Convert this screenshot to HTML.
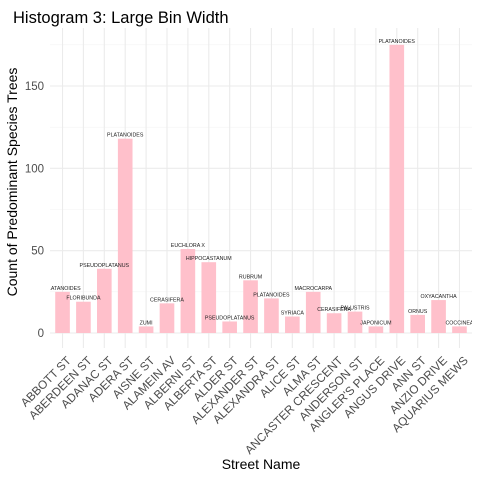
<!DOCTYPE html>
<html><head><meta charset="utf-8"><style>
html,body{margin:0;padding:0;background:#fff;}
svg{display:block;font-family:"Liberation Sans",Arial,sans-serif;}
</style></head><body>
<svg id="chart" width="480" height="480" viewBox="0 0 480 480">
<defs><clipPath id="pc"><rect x="50" y="28" width="422" height="320"/></clipPath></defs>
<text x="13" y="23" font-size="16.5" fill="#000">Histogram 3: Large Bin Width</text>
<g id="grid"></g>
<g id="bars" clip-path="url(#pc)"></g>
<g id="labels" clip-path="url(#pc)"></g>
<g id="ylab"></g>
<g id="xlab"></g>
<text x="261" y="469" font-size="14" text-anchor="middle" fill="#000">Street Name</text>
<text transform="translate(17,182) rotate(-90)" font-size="14" text-anchor="middle" fill="#000">Count of Predominant Species Trees</text>
</svg>
<script>
const categories=["ABBOTT ST","ABERDEEN ST","ADANAC ST","ADERA ST","AISNE ST","ALAMEIN AV","ALBERNI ST","ALBERTA ST","ALDER ST","ALEXANDER ST","ALEXANDRA ST","ALICE ST","ALMA ST","ANCASTER CRESCENT","ANDERSON ST","ANGLER'S PLACE","ANGUS DRIVE","ANN ST","ANZIO DRIVE","AQUARIUS MEWS"];
const counts=[25,19,39,118,4,18,51,43,7,32,21,10,25,12,13,4,175,11,20,4];
const species=["PLATANOIDES","FLORIBUNDA","PSEUDOPLATANUS","PLATANOIDES","ZUMI","CERASIFERA","EUCHLORA   X","HIPPOCASTANUM","PSEUDOPLATANUS","RUBRUM","PLATANOIDES","SYRIACA","MACROCARPA","CERASIFERA","PALUSTRIS","JAPONICUM","PLATANOIDES","ORNUS","OXYACANTHA","COCCINEA"];
const yTicks=[0,50,100,150];
const yMinor=[25,75,125,175];
const NS="http://www.w3.org/2000/svg";
const x0=50,x1=472,py0=333,pxPerUnit=(333-86)/150;
const step=(x1-x0)/(categories.length-1+1.2);
function xs(i){return x0+0.6*step+i*step;}
function ys(v){return py0-v*pxPerUnit;}
function mk(t,a){const e=document.createElementNS(NS,t);for(const k in a)e.setAttribute(k,a[k]);return e;}
const grid=document.getElementById('grid'),bars=document.getElementById('bars'),labs=document.getElementById('labels'),yl=document.getElementById('ylab'),xl=document.getElementById('xlab');
yMinor.forEach(v=>{const l=mk('line',{x1:x0,x2:x1,y1:ys(v),y2:ys(v),stroke:'#f3f3f3','stroke-width':0.6});

grid.appendChild(l);});
yTicks.forEach(v=>{const l=mk('line',{x1:x0,x2:x1,y1:ys(v),y2:ys(v),stroke:'#ebebeb','stroke-width':1.1});

grid.appendChild(l);
const t=mk('text',{x:44,y:ys(v)+4,'font-size':11.5,'text-anchor':'end',fill:'#4d4d4d'});t.textContent=v;

yl.appendChild(t);});
categories.forEach((c,i)=>{const x=xs(i);
const g=mk('line',{x1:x,x2:x,y1:28,y2:348,stroke:'#ebebeb','stroke-width':1.1});

grid.appendChild(g);
const w=step*0.7;
const r=mk('rect',{x:x-w/2,y:ys(counts[i]),width:w,height:counts[i]*pxPerUnit,fill:'#ffc0cb'});

bars.appendChild(r);
const s=mk('text',{x:x,y:ys(counts[i])-2,'font-size':5.3,'text-anchor':'middle',fill:'#222'});s.textContent=species[i];s.setAttribute('xml:space','preserve');

labs.appendChild(s);
const t=mk('text',{transform:'translate('+(x+3)+',355) rotate(-45)','font-size':11.8,'text-anchor':'end','dominant-baseline':'hanging',fill:'#4d4d4d'});t.textContent=c;

xl.appendChild(t);});
</script>
</body></html>
